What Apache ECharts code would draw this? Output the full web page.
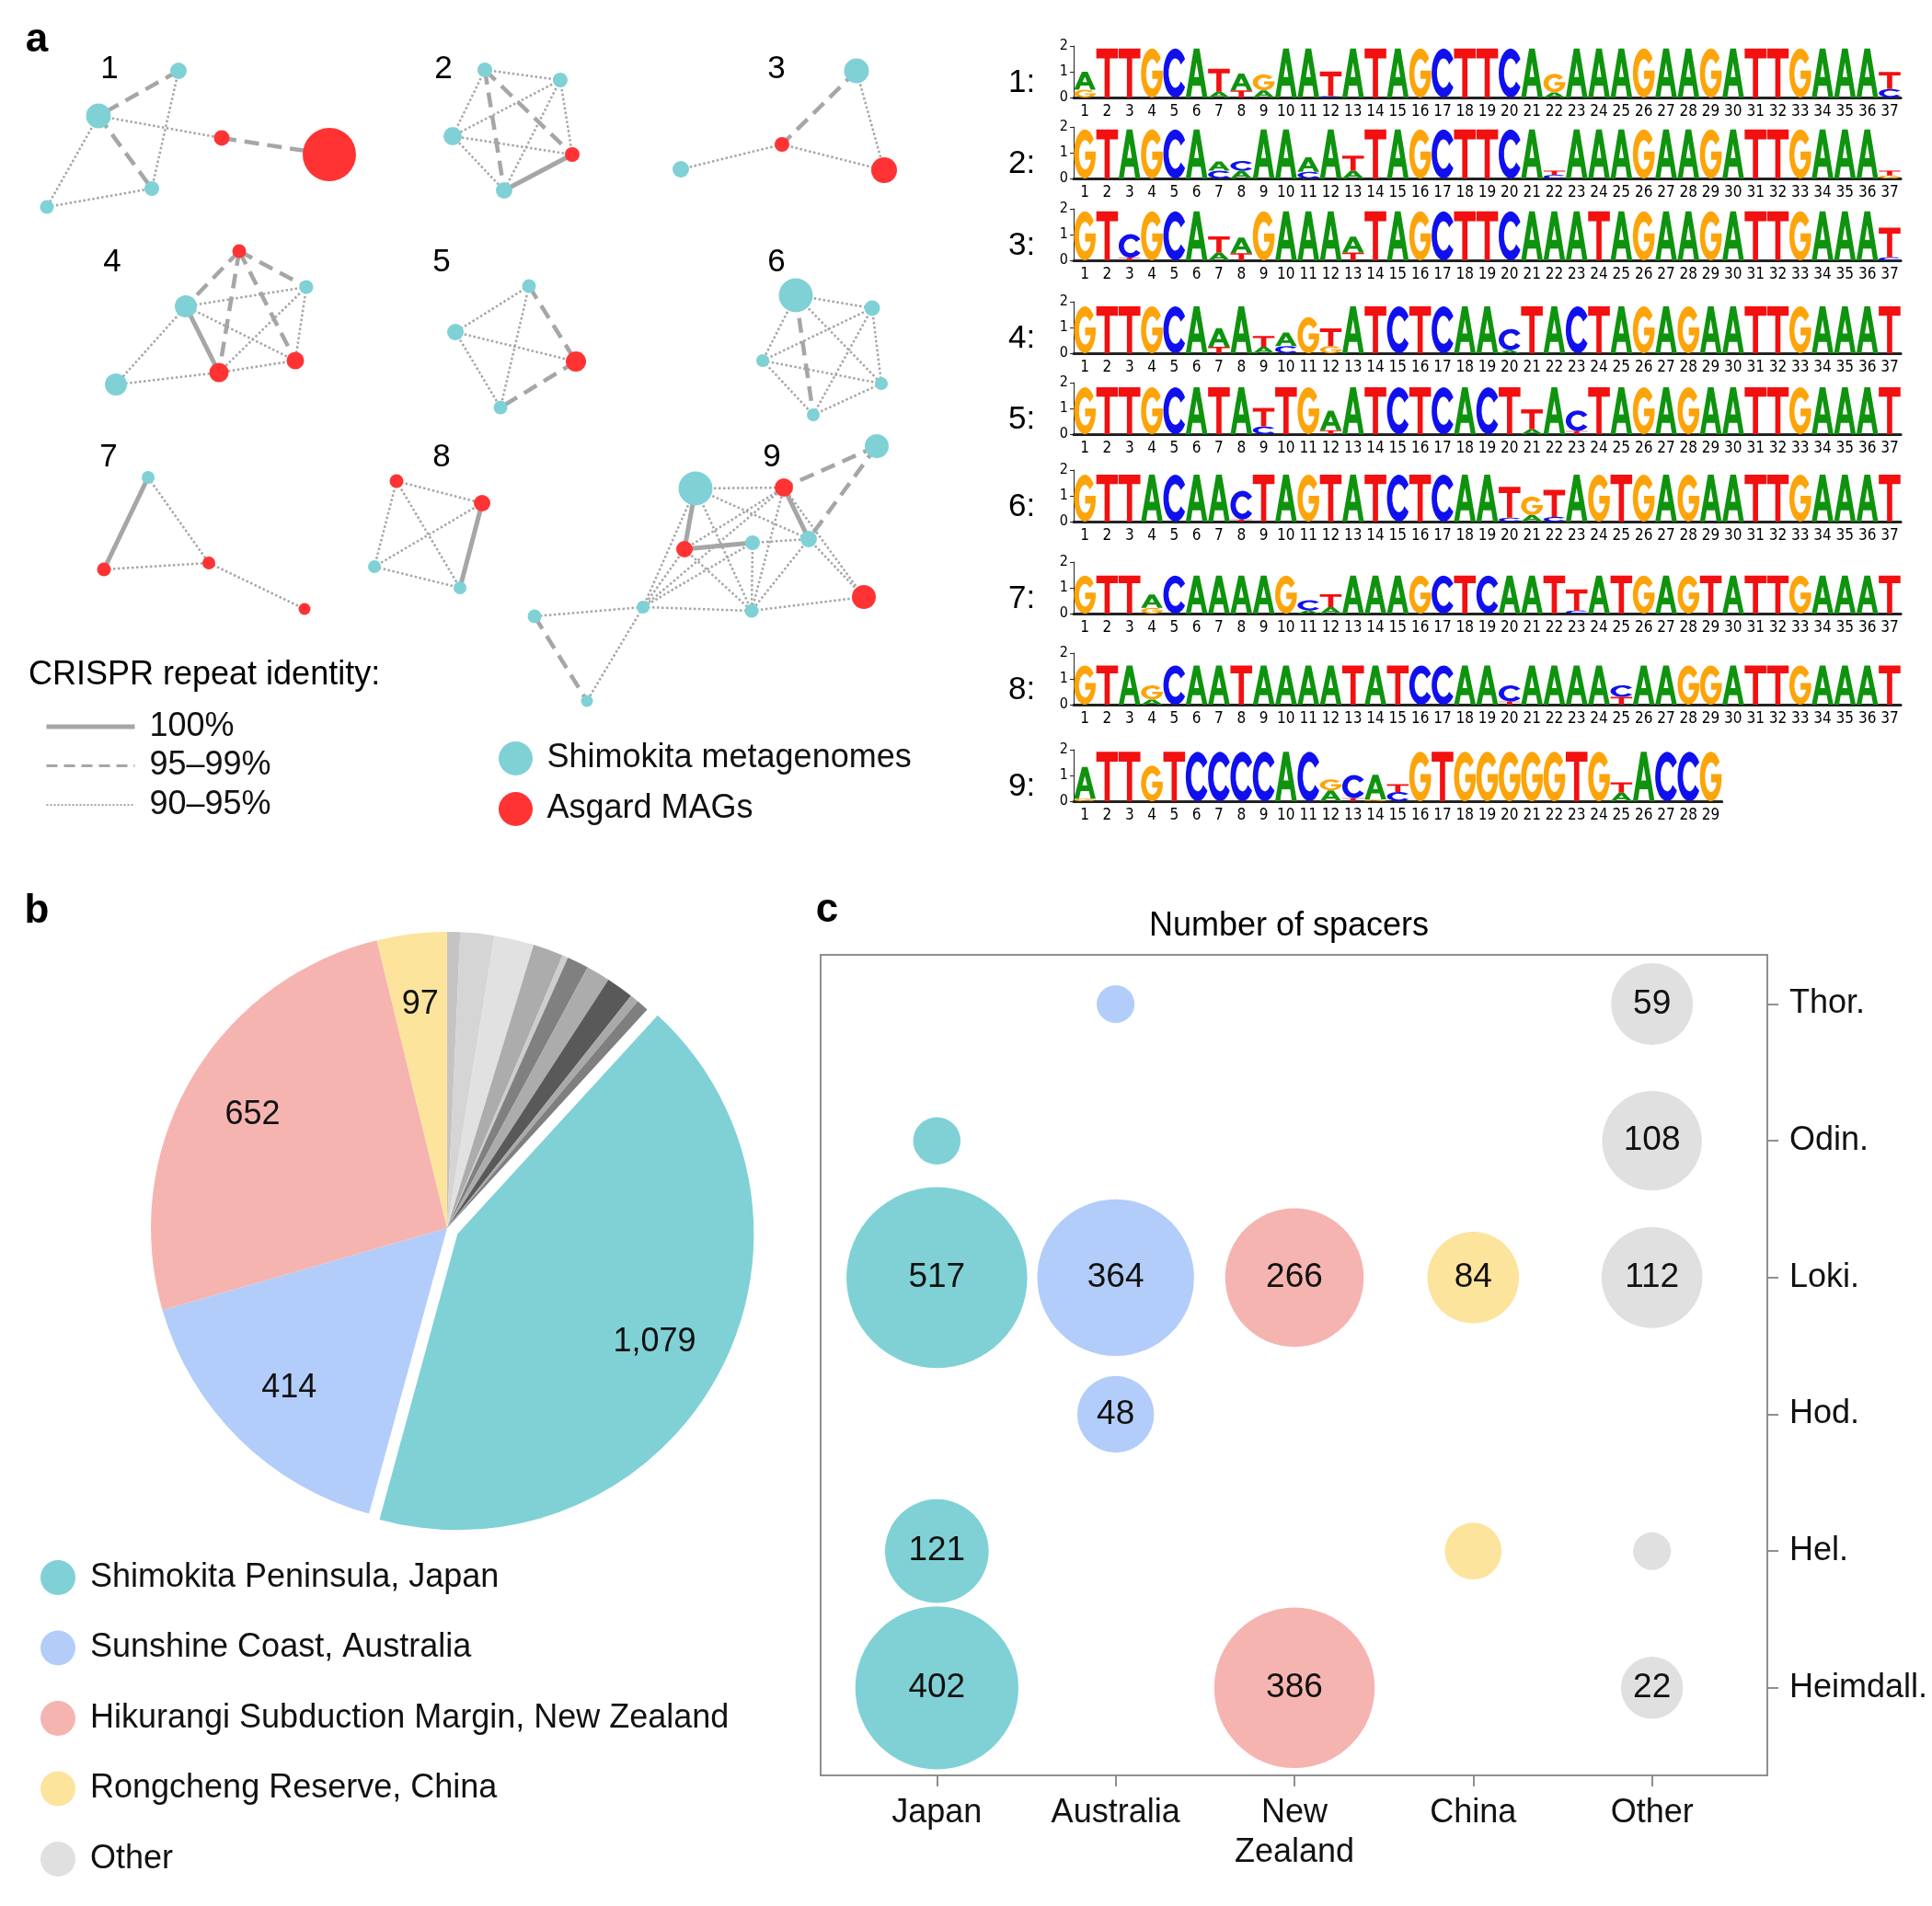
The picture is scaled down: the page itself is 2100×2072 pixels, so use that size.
<!DOCTYPE html>
<html>
<head>
<meta charset="utf-8">
<script src="https://cdn.jsdelivr.net/npm/echarts@6/dist/echarts.min.js"></script>
<style>
html, body { margin: 0; padding: 0; background: #fff; }
#main { width: 2100px; height: 2072px; }
</style>
</head>
<body>
<div id="main"></div>
<script>
var chart = echarts.init(document.getElementById('main'));

// ---------- panel a: repeat-sharing networks ----------
// node: [layout x, layout y, node weight, group]  group 0 = Shimokita, 1 = Asgard
// link: [from, to, identity class]  0 = 100%, 1 = 95-99%, 2 = 90-95%
var net1Nodes = [[194, 77, 18, 0], [107, 126, 27, 0], [241, 150, 17, 1], [358, 168, 58, 1], [51, 225, 15, 0], [165, 205, 16, 0]];
var net1Links = [[0, 1, 1], [1, 2, 2], [2, 3, 1], [1, 5, 1], [1, 4, 2], [4, 5, 2], [0, 5, 2]];
var net2Nodes = [[527, 76, 16, 0], [609, 87, 16, 0], [492, 148, 20, 0], [622, 168, 16, 1], [548, 207, 18, 0]];
var net2Links = [[0, 1, 2], [0, 2, 2], [0, 4, 1], [0, 3, 1], [1, 2, 2], [1, 4, 2], [1, 3, 2], [2, 3, 2], [2, 4, 2], [3, 4, 0]];
var net3Nodes = [[931, 77, 27, 0], [850, 157, 16, 1], [961, 185, 28, 1], [740, 184, 18, 0]];
var net3Links = [[0, 1, 1], [0, 2, 2], [1, 2, 2], [3, 1, 2]];
var net4Nodes = [[260, 273, 15, 1], [333, 312, 15, 0], [202, 333, 24, 0], [238, 405, 21, 1], [321, 392, 19, 1], [126, 418, 24, 0]];
var net4Links = [[0, 2, 1], [0, 1, 1], [0, 3, 1], [0, 4, 1], [2, 1, 2], [2, 3, 0], [2, 4, 2], [2, 5, 2], [1, 3, 2], [1, 4, 2], [3, 4, 2], [3, 5, 2]];
var net5Nodes = [[575, 311, 15, 0], [495, 361, 18, 0], [626, 393, 22, 1], [544, 443, 15, 0]];
var net5Links = [[0, 1, 2], [0, 2, 1], [0, 3, 2], [1, 2, 2], [1, 3, 2], [2, 3, 1]];
var net6Nodes = [[865, 321, 37, 0], [948, 335, 17, 0], [829, 392, 14, 0], [958, 417, 14, 0], [884, 451, 14, 0]];
var net6Links = [[0, 1, 2], [0, 2, 2], [0, 3, 2], [0, 4, 1], [1, 2, 2], [1, 3, 2], [1, 4, 2], [2, 3, 2], [2, 4, 2], [3, 4, 2]];
var net7Nodes = [[161, 519, 14, 0], [113, 619, 15, 1], [227, 612, 14, 1], [331, 662, 13, 1]];
var net7Links = [[0, 1, 0], [0, 2, 2], [1, 2, 2], [2, 3, 2]];
var net8Nodes = [[431, 523, 15, 1], [524, 547, 18, 1], [407, 616, 14, 0], [500, 639, 14, 0]];
var net8Links = [[0, 1, 2], [0, 2, 2], [0, 3, 2], [1, 2, 2], [1, 3, 0], [2, 3, 2]];
var net9Nodes = [[953, 485, 26, 0], [756, 531, 37, 0], [852, 530, 20, 1], [879, 586, 18, 0], [818, 590, 16, 0], [744, 597, 18, 1],
  [939, 649, 26, 1], [699, 660, 14, 0], [817, 664, 15, 0], [581, 670, 15, 0], [638, 762, 13, 0]];
var net9Links = [[0, 2, 1], [0, 3, 1], [1, 2, 2], [1, 5, 0], [1, 3, 2], [1, 8, 2], [1, 7, 2], [2, 3, 0], [2, 6, 2], [2, 5, 2],
  [2, 8, 2], [2, 7, 2], [5, 4, 0], [5, 8, 2], [4, 3, 2], [4, 8, 2], [4, 7, 2], [3, 8, 2], [3, 6, 2], [7, 8, 2], [8, 6, 2],
  [7, 9, 2], [7, 10, 2], [9, 10, 1], [7, 5, 2]];

var identityClasses = ['100%', '95–99%', '90–95%'];
var nodeGroups = ['Shimokita metagenomes', 'Asgard MAGs'];

// ---------- panel a: sequence logos ----------
// upper-case main letter per position; stacks (bottom -> top, bits) where more than one base shows
var logoSeqs = [
  'aTTGCAtagAATATAGCTTCAgAAAGAAGATTGAAAt',
  'GTAGCAacAAaAtTAGCTTCAtAAAGAAGATTGAAAt',
  'GTcGCAtaGAAAaTAGCTTCAAATAGAAGATTGAAAt',
  'GTTGCAaAtaGtATCTCAAcTACTAGAGAATTGAAAT',
  'GTTGCATAtTGaATCTCACTtAcTAGAGAATTGAAAT',
  'GTTACAAcTAGTATCTCAAtgtAGTGAGAATTGAAAT',
  'GTTaCAAAAGctAAAGCTCAATtATGAGTATTGAAAT',
  'GTAgCAATAAAATATCCAAcAAAAcAAGGATTGAAAT',
  'aTTGTCCCCACgcAtGTGGGGGTGtACCG'
];
var logoHeights = [1.9, 1.9, 1.9, 1.82, 1.82, 1.82, 1.47, 1.52, 1.92];
var logoStacks = [
  {1: [['G', .3], ['A', .7]], 7: [['A', .22], ['T', .9]], 8: [['T', .28], ['A', .65]], 9: [['A', .28], ['G', .62]],
   12: [['C', .06], ['T', .95]], 22: [['A', .2], ['G', .72]], 37: [['C', .33], ['T', .66]]},
  {7: [['C', .3], ['A', .36]], 8: [['A', .3], ['C', .38]], 11: [['C', .26], ['A', .56]], 13: [['A', .3], ['T', .58]],
   22: [['C', .14], ['T', .16]], 37: [['G', .12], ['T', .18]]},
  {3: [['T', .1], ['C', .92]], 7: [['A', .3], ['T', .63]], 8: [['T', .28], ['A', .6]], 13: [['T', .3], ['A', .62]],
   37: [['C', .12], ['T', 1.15]]},
  {7: [['T', .25], ['A', .72]], 9: [['A', .25], ['T', .42]], 10: [['C', .28], ['A', .52]], 11: [['G', 1.4]],
   12: [['G', .28], ['T', .68]], 20: [['A', .12], ['C', .82]]},
  {9: [['C', .3], ['T', .72]], 12: [['T', .15], ['A', .76]], 21: [['A', .2], ['T', .76]], 23: [['T', .12], ['C', .8]]},
  {8: [['T', .08], ['C', 1.12]], 20: [['C', .15], ['T', 1.2]], 21: [['A', .25], ['G', .72]], 22: [['C', .18], ['T', 1.05]]},
  {4: [['G', .22], ['A', .52]], 11: [['A', .12], ['C', .4]], 12: [['A', .25], ['T', .5]], 23: [['C', .12], ['T', .82]]},
  {4: [['A', .2], ['G', .55]], 20: [['T', .12], ['C', .63]], 25: [['T', .3], ['C', .45]]},
  {1: [['G', .1], ['A', 1.23]], 4: [['G', 1.38]], 12: [['A', .42], ['G', .43]], 13: [['T', .12], ['C', .9]],
   14: [['G', .07], ['A', .96]], 15: [['C', .36], ['T', .3]], 25: [['A', .33], ['T', .4]]}
];

// ---------- panel b: spacers per site ----------
var siteNames = ['Shimokita Peninsula, Japan', 'Sunshine Coast, Australia', 'Hikurangi Subduction Margin, New Zealand', 'Rongcheng Reserve, China'];
var siteSpacers = [1079, 414, 652, 97];
var otherSpacers = [18, 47, 55, 42, 8, 30, 33, 38, 12, 17];

// ---------- panel c: spacers per region and Asgard clade ----------
var regionNames = ['Japan', 'Australia', 'New\nZealand', 'China', 'Other'];
var cladeNames = ['Thor.', 'Odin.', 'Loki.', 'Hod.', 'Hel.', 'Heimdall.'];
var spacerMatrix = [
  [0, 6, 517, 0, 121, 402],
  [1, 0, 364, 48, 0, 0],
  [0, 0, 266, 0, 0, 386],
  [0, 0, 84, 0, 15, 0],
  [59, 108, 112, 0, 1, 22]
];

// ---------- styles ----------
var FONT = '"Liberation Sans", Arial, Helvetica, sans-serif';
var NARROW = '"Liberation Sans Narrow", "DejaVu Sans Condensed", "Liberation Sans", sans-serif';
var CYAN = '#7fd1d6', RED = '#ff3333', EDGE = '#a6a6a6';
var siteColors = ['#7fd1d6', '#b3cdfa', '#f6b4b0', '#fce49c'];
var otherColors = ['#c4c4c4', '#d5d5d5', '#e1e1e1', '#acacac', '#cdcdcd', '#808080', '#acacac', '#595959', '#a9a9a9', '#7f7f7f'];
var regionColors = ['#7fd1d6', '#b3cdfa', '#f6b4b0', '#fce49c', '#e0e0e0'];
var edgeStyles = [
  { color: EDGE, width: 5, type: 'solid', opacity: 1 },
  { color: EDGE, width: 4.5, type: [16, 9], opacity: 1 },
  { color: EDGE, width: 2.5, type: [2.5, 2.5], opacity: 1 }
];
var legendLineStyles = [
  { color: EDGE, width: 5, type: 'solid', opacity: 1 },
  { color: EDGE, width: 3, type: [12, 7], opacity: 1 },
  { color: EDGE, width: 2, type: [2, 2], opacity: 1 }
];
var glyphOrder = ['A', 'C', 'G', 'T'];
var glyphPath = {
  A: 'M0,100 L37,0 L63,0 L100,100 L77,100 L69,76 L31,76 L23,100 Z M39,58 L61,58 L50,28 Z',
  C: 'M91,21.3 A50,50 0 1 0 91,78.7 L72.9,67.2 A28,30 0 1 1 72.9,32.8 Z',
  G: 'M91,21.3 A50,50 0 1 0 100,60 L100,46 L52,46 L52,63 L78,63 A28,30 0 1 1 72.9,32.8 Z',
  T: 'M0,0 L100,0 L100,20 L62,20 L62,100 L38,100 L38,20 L0,20 Z'
};
var glyphColor = { A: '#0f930f', C: '#1010ee', G: '#fca40a', T: '#f21010' };

// ---------- build network graph ----------
var nets = [[net1Nodes, net1Links], [net2Nodes, net2Links], [net3Nodes, net3Links], [net4Nodes, net4Links],
  [net5Nodes, net5Links], [net6Nodes, net6Links], [net7Nodes, net7Links], [net8Nodes, net8Links], [net9Nodes, net9Links]];
var graphNodes = [], graphLinks = [];
nets.forEach(function (n) {
  var base = graphNodes.length;
  n[0].forEach(function (d) {
    graphNodes.push({ value: [d[0], d[1]], symbolSize: d[2], category: d[3] });
  });
  n[1].forEach(function (l) {
    graphLinks.push({ source: base + l[0], target: base + l[1], lineStyle: edgeStyles[l[2]] });
  });
});

// ---------- build logos ----------
var logoZero = [106, 194, 283, 384, 472, 567, 667, 766, 871];
var colW = 24.3;
function logoColumns(k) {
  var seq = logoSeqs[k], stacks = logoStacks[k], out = [];
  for (var p = 1; p <= seq.length; p++) {
    var stack = stacks[p] || [[seq[p - 1].toUpperCase(), logoHeights[k]]];
    var y = 0;
    stack.forEach(function (s) {
      out.push([p - 1, y, y + s[1], glyphOrder.indexOf(s[0])]);
      y += s[1];
    });
  }
  return out;
}
function renderGlyph(params, api) {
  var top = api.coord([api.value(0), api.value(2)]);
  var bot = api.coord([api.value(0), api.value(1)]);
  var bw = api.size([1, 0])[0] * 0.97;
  var h = bot[1] - top[1];
  if (h < 0.4) return;
  var g = glyphOrder[api.value(3)];
  return {
    type: 'path',
    shape: { pathData: glyphPath[g], layout: 'cover', x: top[0] - bw / 2, y: top[1], width: bw, height: h },
    style: { fill: glyphColor[g] }
  };
}

var grids = [{ left: 0, top: 0, width: 1060, height: 930, outerBoundsMode: 'none' }];
var xAxes = [{ gridIndex: 0, type: 'value', min: 0, max: 1060, show: false }];
var yAxes = [{ gridIndex: 0, type: 'value', min: 0, max: 930, inverse: true, show: false }];
var series = [];

series.push({
  type: 'graph', coordinateSystem: 'cartesian2d', xAxisIndex: 0, yAxisIndex: 0,
  categories: [{ name: nodeGroups[0], itemStyle: { color: CYAN } }, { name: nodeGroups[1], itemStyle: { color: RED } }],
  data: graphNodes, links: graphLinks,
  label: { show: false }, lineStyle: { opacity: 1, curveness: 0 },
  emphasis: { disabled: true }, silent: true, z: 3
});
identityClasses.forEach(function (name, i) {
  series.push({
    type: 'line', name: name, xAxisIndex: 0, yAxisIndex: 0, data: [], symbol: 'none',
    itemStyle: { color: 'rgba(0,0,0,0)' }, lineStyle: legendLineStyles[i]
  });
});

logoSeqs.forEach(function (seq, k) {
  var n = seq.length, gi = k + 1;
  var cats = [];
  for (var p = 1; p <= n; p++) cats.push(String(p));
  grids.push({ left: 1167, top: logoZero[k] - 56, width: n * colW, height: 56, outerBoundsMode: 'none' });
  xAxes.push({
    gridIndex: gi, type: 'category', data: cats, boundaryGap: true,
    axisLine: { lineStyle: { color: '#222', width: 3 } },
    axisTick: { alignWithLabel: true, interval: 0, length: 5, lineStyle: { color: '#222', width: 1 } },
    axisLabel: { interval: 0, fontSize: 17, color: '#000', margin: 7, fontFamily: NARROW }
  });
  yAxes.push({
    gridIndex: gi, type: 'value', min: 0, max: 2, interval: 1,
    axisLine: { show: true, lineStyle: { color: '#222', width: 1 } },
    axisTick: { show: true, length: 4, lineStyle: { color: '#222' } },
    axisLabel: { fontSize: 16, color: '#000', margin: 6, fontFamily: NARROW },
    splitLine: { show: false }
  });
  series.push({
    type: 'custom', xAxisIndex: gi, yAxisIndex: gi, renderItem: renderGlyph,
    data: logoColumns(k), encode: { x: 0, y: [1, 2] }, silent: true, clip: false
  });
});

// ---------- pie ----------
var pieData = [];
otherSpacers.forEach(function (v, i) {
  pieData.push({ name: 'Other', value: v, itemStyle: { color: otherColors[i] }, label: { show: false } });
});
siteSpacers.forEach(function (v, i) {
  pieData.push({ name: siteNames[i], value: v, itemStyle: { color: siteColors[i] }, selected: i === 0 });
});
var pieCommon = {
  type: 'pie', center: [486, 1335], startAngle: 90, clockwise: true,
  selectedMode: 'single', selectedOffset: 13, animation: false,
  emphasis: { disabled: true }, labelLine: { show: false }, avoidLabelOverlap: false
};
series.push(Object.assign({}, pieCommon, {
  name: 'sites', radius: [0, 322], data: pieData,
  itemStyle: { borderWidth: 0 }, label: { show: false }
}));
series.push(Object.assign({}, pieCommon, {
  name: 'siteLabels', radius: [161, 322], silent: true,
  data: pieData.map(function (d) {
    return { name: d.name, value: d.value, selected: d.selected, label: d.label, itemStyle: { color: 'rgba(0,0,0,0)' } };
  }),
  itemStyle: { borderWidth: 0 },
  label: {
    show: true, position: 'inside', fontSize: 36, color: '#111', fontFamily: FONT,
    formatter: function (p) { return p.value.toLocaleString('en-US'); }
  }
}));

// ---------- bubble chart ----------
grids.push({
  left: 892, top: 1038, width: 1029, height: 892, show: true,
  borderColor: '#8f8f8f', borderWidth: 2, backgroundColor: 'transparent', outerBoundsMode: 'none'
});
var bg = grids.length - 1;
xAxes.push({
  gridIndex: bg, type: 'value', min: 0.35, max: 5.645,
  axisLine: { show: true, onZero: false, lineStyle: { color: '#8f8f8f', width: 2 } },
  axisTick: { show: true, customValues: [1, 2, 3, 4, 5], length: 12, lineStyle: { color: '#8f8f8f', width: 2 } },
  axisLabel: {
    customValues: [1, 2, 3, 4, 5], fontSize: 36, lineHeight: 43, color: '#111', margin: 20, fontFamily: FONT,
    formatter: function (v) { return regionNames[Math.round(v) - 1]; }
  },
  splitLine: { show: false }
});
yAxes.push({
  gridIndex: bg, type: 'value', position: 'right', min: 0.36, max: 6.36,
  axisLine: { show: true, onZero: false, lineStyle: { color: '#8f8f8f', width: 2 } },
  axisTick: { show: true, customValues: [1, 2, 3, 4, 5, 6], length: 12, lineStyle: { color: '#8f8f8f', width: 2 } },
  axisLabel: {
    customValues: [1, 2, 3, 4, 5, 6], fontSize: 36, color: '#111', margin: 24, fontFamily: FONT,
    formatter: function (v) { return cladeNames[6 - Math.round(v)]; }
  },
  splitLine: { show: false }
});
regionNames.forEach(function (r, ri) {
  var pts = [];
  spacerMatrix[ri].forEach(function (v, ci) {
    if (v > 0) pts.push([ri + 1, 6 - ci, v]);
  });
  series.push({
    type: 'scatter', name: r.replace('\n', ' '), xAxisIndex: bg, yAxisIndex: bg, data: pts,
    symbolSize: function (val) { return 34 + 7.15 * Math.sqrt(val[2]); },
    itemStyle: { color: regionColors[ri], opacity: 1 },
    label: {
      show: true, position: 'inside', fontSize: 37, color: '#111', fontFamily: FONT,
      formatter: function (p) { return p.value[2] >= 20 ? String(p.value[2]) : ''; }
    },
    emphasis: { disabled: true }, silent: true
  });
});

// ---------- annotations ----------
function txt(text, x, y, size, align, weight) {
  return {
    type: 'text', x: x, y: y, silent: true,
    style: { text: text, fill: '#000', fontSize: size, fontFamily: FONT, fontWeight: weight || 'normal',
      align: align || 'center', verticalAlign: 'middle' }
  };
}
var graphics = [
  txt('a', 40, 44, 44, 'center', 'bold'),
  txt('b', 40, 991, 44, 'center', 'bold'),
  txt('c', 899, 990, 44, 'center', 'bold'),
  txt('CRISPR repeat identity:', 31, 734, 36, 'left'),
  txt('Number of spacers', 1401, 1007, 36, 'center')
];
var netLabelPos = [[119, 75], [482, 75], [844, 75], [122, 285], [480, 285], [844, 285], [118, 497], [480, 497], [839, 497]];
netLabelPos.forEach(function (p, i) { graphics.push(txt(String(i + 1), p[0], p[1], 35)); });
logoZero.forEach(function (z, i) { graphics.push(txt((i + 1) + ':', 1096, z - 16, 35, 'left')); });

var legendText = { fontSize: 36, color: '#111', fontFamily: FONT };
var option = {
  animation: false,
  textStyle: { fontFamily: FONT },
  grid: grids,
  xAxis: xAxes,
  yAxis: yAxes,
  legend: [
    {
      data: identityClasses.map(function (n, i) { return { name: n, lineStyle: legendLineStyles[i] }; }),
      orient: 'vertical', left: 48, top: 772, itemWidth: 96, itemHeight: 8,
      itemGap: 6.5, padding: 0, selectedMode: false,
      textStyle: Object.assign({ padding: [0, 0, 0, 11] }, legendText)
    },
    {
      data: nodeGroups, orient: 'vertical', left: 542, top: 806, icon: 'circle', itemWidth: 58, itemHeight: 37,
      itemGap: 18, padding: 0, selectedMode: false, textStyle: legendText
    },
    {
      data: siteNames.map(function (n) { return { name: n }; }).concat([{ name: 'Other', itemStyle: { color: '#e0e0e0' } }]),
      orient: 'vertical', left: 44, top: 1696, icon: 'circle', itemWidth: 60, itemHeight: 38,
      itemGap: 38.5, padding: 0, selectedMode: false, textStyle: legendText
    }
  ],
  graphic: graphics,
  series: series
};
chart.setOption(option);
</script>
</body>
</html>
